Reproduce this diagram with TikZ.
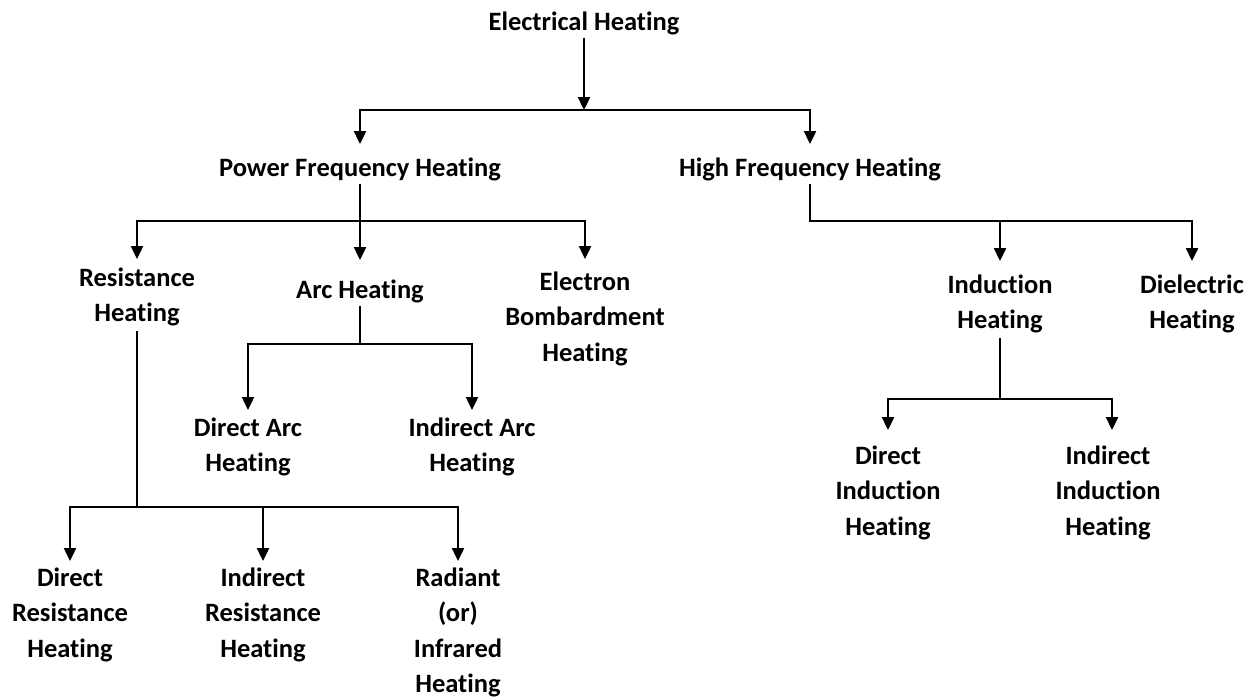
\documentclass[tikz,border=0pt]{standalone}
\usepackage{fontspec}
\setmainfont{Carlito}[Ligatures=NoCommon]
\usetikzlibrary{arrows.meta}
\begin{document}
\begin{tikzpicture}[x=1pt,y=-1pt,
  lbl/.style={inner sep=0pt, anchor=base, align=center, font=\bfseries\fontsize{26.5}{35.5}\selectfont},
  ln/.style={line width=2.4pt, line join=miter},
  arr/.style={ln, -{Triangle[width=12pt,length=13pt]}}]
\useasboundingbox (0,0) rectangle (1258,699);
% nodes (placed at the baseline of their last line)
\node[lbl] (EH) at (584,30) {Electrical Heating};
\node[lbl] (PFH) at (360,176) {Power Frequency Heating};
\node[lbl] (HFH) at (810,176) {High Frequency Heating};
\node[lbl] (RH) at (137,321.5) {Resistance\\Heating};
\node[lbl] (AH) at (360,298) {Arc Heating};
\node[lbl] (EBH) at (585,361) {Electron\\Bombardment\\Heating};
\node[lbl] (IH) at (1000,328.5) {Induction\\Heating};
\node[lbl] (DH) at (1192,328.5) {Dielectric\\Heating};
\node[lbl] (DAH) at (248,471.5) {Direct Arc\\Heating};
\node[lbl] (IAH) at (472,471.5) {Indirect Arc\\Heating};
\node[lbl] (DIH) at (888,535) {Direct\\Induction\\Heating};
\node[lbl] (IIH) at (1108,535) {Indirect\\Induction\\Heating};
\node[lbl] (DRH) at (70,657) {Direct\\Resistance\\Heating};
\node[lbl] (IRH) at (263,657) {Indirect\\Resistance\\Heating};
\node[lbl] (RIH) at (458,692.5) {Radiant\\(or)\\Infrared\\Heating};
% junctions and tips
\coordinate (j1) at (584,110);
\coordinate (tPFH) at (360,144);
\coordinate (tHFH) at (810,144);
\coordinate (j2) at (360,221);
\coordinate (tRH) at (137,259);
\coordinate (tAH) at (360,260);
\coordinate (tEBH) at (585,259);
\coordinate (j3) at (1000,221);
\coordinate (tIH) at (1000,261);
\coordinate (tDH) at (1192,261);
\coordinate (j4) at (360,344);
\coordinate (tDAH) at (248,410);
\coordinate (tIAH) at (472,410);
\coordinate (j5) at (1000,399);
\coordinate (tDIH) at (888,430);
\coordinate (tIIH) at (1112,430);
\coordinate (j6) at (137,507);
\coordinate (tDRH) at (70,561);
\coordinate (tIRH) at (263,561);
\coordinate (tRIH) at (458,561);
% connectors
\draw[arr] (EH.south) ++(0,3) -- (j1);
\draw[arr] (j1) -| (tPFH);
\draw[arr] (j1) -| (tHFH);
\draw[ln] (PFH.south) ++(0,3) -- (j2);
\draw[arr] (j2) -| (tRH);
\draw[arr] (j2) -- (tAH);
\draw[arr] (j2) -| (tEBH);
\draw[ln] (HFH.south) ++(0,3) |- (j3);
\draw[arr] (j3) -- (tIH);
\draw[arr] (j3) -| (tDH);
\draw[ln] (AH.south) ++(0,3) -- (j4);
\draw[arr] (j4) -| (tDAH);
\draw[arr] (j4) -| (tIAH);
\draw[ln] (IH.south) ++(0,5) -- (j5);
\draw[arr] (j5) -| (tDIH);
\draw[arr] (j5) -| (tIIH);
\draw[ln] (RH.south) ++(0,5) -- (j6);
\draw[arr] (j6) -| (tDRH);
\draw[arr] (j6) -| (tIRH);
\draw[arr] (j6) -| (tRIH);
\end{tikzpicture}
\end{document}
